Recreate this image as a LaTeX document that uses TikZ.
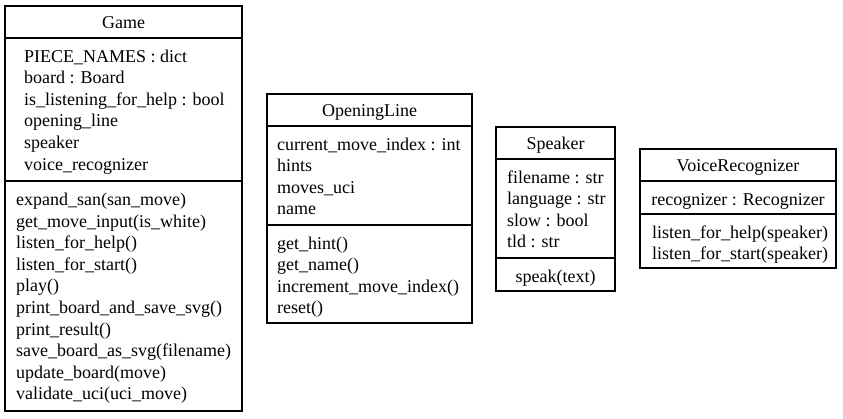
\documentclass[tikz,border=0pt]{standalone}
\usepackage{fontspec}
\setmainfont{Liberation Serif}
\begin{document}
\begin{tikzpicture}[x=1pt,y=-1pt,
  box/.style={line width=1.2pt},
  txt/.style={inner sep=0pt, font=\fontsize{18}{21.6}\selectfont}]
\useasboundingbox (0,0) rectangle (843,418);
% Game
\draw[box] (5,6) rectangle (242,411);
\draw[box] (5,38) -- (242,38);
\draw[box] (5,181) -- (242,181);
\node[txt,anchor=base] (gt) at (123.5,28) {Game};
\foreach \t [count=\i] in {PIECE\_NAMES : dict, board : Board, is\_listening\_for\_help : bool, opening\_line, speaker, voice\_recognizer}
  \node[txt,anchor=base west] (ga\i) at (24,{62+21.6*(\i-1)}) {\t};
\foreach \t [count=\i] in {expand\_san(san\_move), get\_move\_input(is\_white), listen\_for\_help(), listen\_for\_start(), play(), print\_board\_and\_save\_svg(), print\_result(), save\_board\_as\_svg(filename), update\_board(move), validate\_uci(uci\_move)}
  \node[txt,anchor=base west] (gm\i) at (16,{205.5+21.6*(\i-1)}) {\t};
% OpeningLine
\draw[box] (267,94) rectangle (472,323);
\draw[box] (267,126) -- (472,126);
\draw[box] (267,225) -- (472,225);
\node[txt,anchor=base] (ot) at (369.5,116) {OpeningLine};
\foreach \t [count=\i] in {current\_move\_index : int, hints, moves\_uci, name}
  \node[txt,anchor=base west] (oa\i) at (277,{150+21.6*(\i-1)}) {\t};
\foreach \t [count=\i] in {get\_hint(), get\_name(), increment\_move\_index(), reset()}
  \node[txt,anchor=base west] (om\i) at (277,{249+21.6*(\i-1)}) {\t};
% Speaker
\draw[box] (496,127) rectangle (615,291);
\draw[box] (496,159) -- (615,159);
\draw[box] (496,258) -- (615,258);
\node[txt,anchor=base] (st) at (555.5,149) {Speaker};
\foreach \t [count=\i] in {filename : str, language : str, slow : bool, tld : str}
  \node[txt,anchor=base west] (sa\i) at (507,{183+21.6*(\i-1)}) {\t};
\node[txt,anchor=base] (sm1) at (555.5,282) {speak(text)};
% VoiceRecognizer
\draw[box] (640,149) rectangle (836,268);
\draw[box] (640,181) -- (836,181);
\draw[box] (640,214) -- (836,214);
\node[txt,anchor=base] (vt) at (738,171) {VoiceRecognizer};
\node[txt,anchor=base] (va1) at (738,205) {recognizer : Recognizer};
\foreach \t [count=\i] in {listen\_for\_help(speaker), listen\_for\_start(speaker)}
  \node[txt,anchor=base west] (vm\i) at (652,{238+21.6*(\i-1)}) {\t};
\end{tikzpicture}
\end{document}
